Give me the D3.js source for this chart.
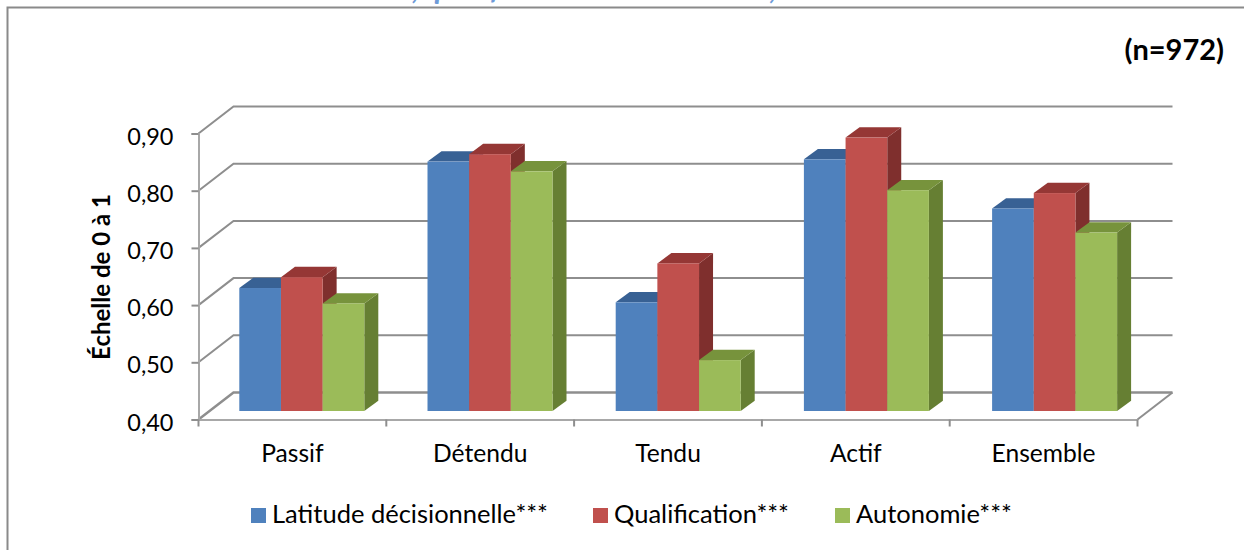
<!DOCTYPE html>
<html lang="fr"><head><meta charset="utf-8">
<script src="https://cdn.jsdelivr.net/npm/d3@7/dist/d3.min.js"></script>
<style>html,body{margin:0;padding:0;background:#fff;overflow:hidden}svg{display:block}text{font-family:Lato,"Open Sans",sans-serif;fill:#000}</style>
</head><body><svg id="c" width="1244" height="550"></svg>
<script>
const categories = ["Passif","Détendu","Tendu","Actif","Ensemble"];
const seriesNames = ["Latitude décisionnelle***","Qualification***","Autonomie***"];
const latitude = [0.615,0.836,0.590,0.840,0.754];
const qualification = [0.634,0.849,0.658,0.878,0.781];
const autonomie = [0.588,0.819,0.489,0.786,0.712];
const tickValues = [0.4,0.5,0.6,0.7,0.8,0.9];
const colors = ["#4f81bd","#c0504d","#9bbb59"];
const topColors = ["#386194","#953735","#77933c"];
const sideColors = ["#2f5480","#7f2f2d","#667f33"];
const title = "Latitude décisionnelle, qualification et autonomie, selon les modèles de travail";
const nLabel = "(n=972)";
const yTitle = "Échelle de 0 à 1";

const svg = d3.select("#c");
const series = [latitude,qualification,autonomie];
const W = {dx:35, dy:-27};            // depth of the back wall
const B = {sy:-8.5, dx:14, dy:-10.3}; // bar plane shift and bar depth
const grey = "#8e8e8e";

const y = d3.scaleLinear().domain([0.4,0.9]).range([419.5,133.5]);
const x = d3.scaleBand().domain(categories).range([198.5,1137.5]);
const xBar = d3.scaleBand().domain(categories).range([239.3,239.3+188.2*5]);
const xs = d3.scaleBand().domain(d3.range(3)).range([0,125]);

// frame and clipped title
svg.append("path").attr("d","M7.5 550V7.5H1244").attr("fill","none").attr("stroke","#8a8a8a").attr("stroke-width",2);
svg.append("text").attr("x",632).attr("y",-1.5).attr("text-anchor","middle")
  .attr("font-size",31).attr("font-weight",700).attr("font-style","italic").style("fill","#6f9bd8").text(title);
svg.append("text").attr("x",1224).attr("y",60).attr("text-anchor","end")
  .attr("font-size",29).attr("font-weight",700).text(nLabel);

// walls
const wall = svg.append("g").attr("fill","none").attr("stroke",grey).attr("stroke-width",2);
tickValues.forEach(v=>{
  const yy=y(v);
  wall.append("path").attr("d",`M198.5 ${yy}L${198.5+W.dx} ${yy+W.dy}H${1137.5+W.dx}`)
    .attr("stroke-width",v===0.4?2.5:2);
});
wall.append("path").attr("d",`M1137.5 ${y(0.4)}L${1137.5+W.dx} ${y(0.4)+W.dy}`);

// axes
const yAxis = d3.axisLeft(y).tickValues(tickValues).tickSize(7).tickPadding(18)
  .tickFormat(d=>d3.format(".2f")(d).replace(".",","));
const ga = svg.append("g").attr("transform","translate(198.5,0)").call(yAxis);
const xAxis = d3.axisBottom(x).tickSize(0).tickPadding(25.5);
const gb = svg.append("g").attr("transform",`translate(0,${y(0.4)})`).call(xAxis);
[ga,gb].forEach(g=>{g.selectAll("path.domain").attr("stroke","#a8a8a8").attr("stroke-width",2);
  g.selectAll("line").attr("stroke","#8e8e8e").attr("stroke-width",2);
  g.selectAll("text").attr("font-family",'Lato').style("fill","#000");});
gb.selectAll("text").attr("font-size",24.6);
ga.selectAll("text").attr("font-size",23.5).attr("dy","0.45em");
gb.selectAll(".bt").data(d3.range(6)).enter().append("line").attr("class","bt")
  .attr("x1",i=>198.5+i*x.bandwidth()).attr("x2",i=>198.5+i*x.bandwidth())
  .attr("y1",0).attr("y2",7).attr("stroke","#8e8e8e").attr("stroke-width",2);

// y title
svg.append("text").attr("transform","translate(110,277) rotate(-90)").attr("text-anchor","middle")
  .attr("font-size",24).attr("font-weight",700).text(yTitle);

// bars
const bars = svg.append("g").style("filter","blur(0.4px)");
categories.forEach((c,i)=>{
  series.forEach((s,k)=>{
    const x0 = xBar(c)+xs(k), w = xs.bandwidth();
    const base = y(0.4)+B.sy, t = y(s[i])+B.sy;
    const g = bars.append("g");
    g.append("path").attr("d",`M${x0+w} ${t}l${B.dx} ${B.dy}V${base+B.dy}l${-B.dx} ${-B.dy}Z`).attr("fill",sideColors[k]);
    g.append("path").attr("d",`M${x0} ${t}l${B.dx} ${B.dy}h${w}l${-B.dx} ${-B.dy}Z`).attr("fill",topColors[k]);
    g.append("rect").attr("x",x0).attr("y",t).attr("width",w).attr("height",base-t).attr("fill",colors[k]);
  });
});

// legend
const legendX = [251,593,835];
seriesNames.forEach((n,k)=>{
  svg.append("rect").attr("x",legendX[k]).attr("y",508).attr("width",15).attr("height",15).attr("fill",colors[k]);
  svg.append("text").attr("x",legendX[k]+21).attr("y",523).attr("font-size",25.5).text(n);
});
</script></body></html>
